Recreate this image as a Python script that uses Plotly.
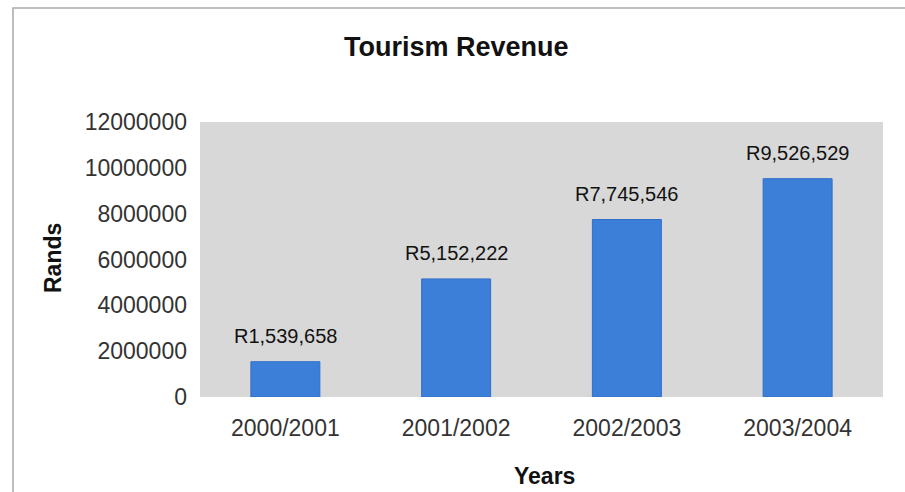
import plotly.graph_objects as go

categories = ["2000/2001", "2001/2002", "2002/2003", "2003/2004"]
revenue = [1539658, 5152222, 7745546, 9526529]
tick_values = [0, 2000000, 4000000, 6000000, 8000000, 10000000, 12000000]
tick_labels = ["0", "2000000", "4000000", "6000000", "8000000", "10000000", "12000000"]
chart_title = "Tourism Revenue"
x_title = "Years"
y_title = "Rands"

W, H = 905, 492
FONT = "Liberation Sans, Arial, sans-serif"

fig = go.Figure(go.Bar(
    x=categories, y=revenue,
    marker=dict(color="#3b7fd8", line=dict(color="#2f6fcb", width=1)),
    hoverinfo="skip",
))

labels = ["R{:,}".format(v) for v in revenue]
for c, v, t in zip(categories, revenue, labels):
    fig.add_annotation(x=c, y=v, text=t, showarrow=False, yanchor="middle",
                       yshift=26, font=dict(family=FONT, size=20, color="#111111"))

fig.add_annotation(text="<b>" + chart_title + "</b>", xref="paper", yref="paper",
                   x=(456 - 200) / 683, y=(397 - 47) / 275, showarrow=False,
                   yanchor="middle", xanchor="center",
                   font=dict(family=FONT, size=27, color="#111111"))
fig.add_annotation(text="<b>" + x_title + "</b>", xref="paper", yref="paper",
                   x=(544 - 200) / 683, y=(397 - 476) / 275, showarrow=False,
                   yanchor="middle", xanchor="center",
                   font=dict(family=FONT, size=23, color="#111111"))
fig.add_annotation(text="<b>" + y_title + "</b>", xref="paper", yref="paper",
                   x=(53 - 200) / 683, y=(397 - 258) / 275, showarrow=False,
                   yanchor="middle", xanchor="center", textangle=-90,
                   font=dict(family=FONT, size=23, color="#111111"))

# outer frame
fig.add_shape(type="rect", xref="paper", yref="paper",
              x0=(13 - 200) / 683, x1=(910 - 200) / 683,
              y0=(397 - 500) / 275, y1=(397 - 8) / 275,
              line=dict(color="#a8a8a8", width=1.5), layer="below")

fig.update_layout(
    width=W, height=H,
    margin=dict(l=200, r=22, t=122, b=95),
    paper_bgcolor="white",
    plot_bgcolor="#d8d8d8",
    bargap=0.596,
    showlegend=False,
    font=dict(family=FONT, color="#333333"),
)
fig.update_xaxes(showgrid=False, zeroline=False, showline=False, ticks="",
                 tickfont=dict(family=FONT, size=23, color="#333333"),
                 ticklabelstandoff=15)
fig.update_yaxes(range=[0, 12000000], tickvals=tick_values, ticktext=tick_labels,
                 showgrid=False, zeroline=False, showline=False, ticks="",
                 tickfont=dict(family=FONT, size=23, color="#333333"),
                 ticklabelstandoff=12)

fig.write_html("out.html", config={"displayModeBar": False},
               post_script="document.body.style.margin='0';document.body.style.overflow='hidden';")
